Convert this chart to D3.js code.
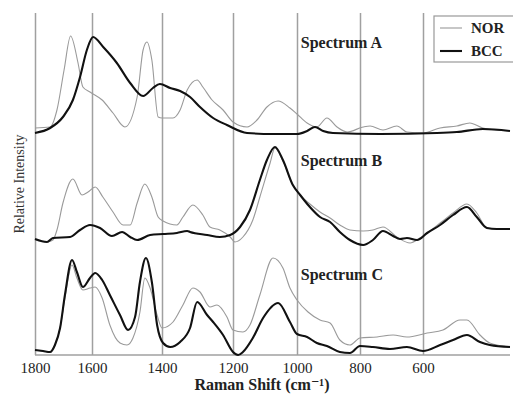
<!DOCTYPE html>
<html lang="en">
<head>
<meta charset="utf-8">
<style>
  body { margin: 0; background: #fff; }
  svg { display: block; font-family: "Liberation Serif", "DejaVu Serif", serif; }
  .grid line { stroke: #a0a0a0; stroke-width: 1.5; }
  .grid path { stroke: #a0a0a0; stroke-width: 1.5; }
  .grid text { font-size: 15px; fill: #222; font-family: "Liberation Serif", serif; }
  .nor { fill: none; stroke: #9a9a9a; stroke-width: 1.1; }
  .bcc { fill: none; stroke: #111; stroke-width: 2.1; }
  .lbl { font-size: 15px; font-weight: bold; fill: #222; }
</style>
</head>
<body>
<svg width="513" height="394"></svg>
<script src="https://cdn.jsdelivr.net/npm/d3@7/dist/d3.min.js"></script>
<script>
// tick labels on the Raman shift axis
var ticks = [1800, 1600, 1400, 1200, 1000, 800, 600];
var spectra = ["A", "B", "C"];
var offsets = [2.2, 1.15, 0];

// [Raman shift (cm-1), relative intensity]
var norA = [[1800,0.07],[1747,0.08],[1723,0.25],[1698,0.65],[1675,0.99],[1649,0.72],[1632,0.48],[1607,0.43],
  [1571,0.35],[1540,0.22],[1506,0.08],[1471,0.38],[1454,0.85],[1443,0.93],[1429,0.75],[1411,0.18],[1400,0.17],
  [1369,0.17],[1349,0.25],[1329,0.45],[1301,0.55],[1285,0.48],[1259,0.35],[1228,0.25],[1200,0.13],[1156,0.08],
  [1125,0.15],[1094,0.28],[1059,0.34],[1022,0.27],[1000,0.21],[968,0.12],[937,0.08],[905,0.17],[873,0.08],
  [841,0.03],[790,0.08],[768,0.09],[727,0.05],[683,0.09],[651,0.03],[600,0.02],[546,0.07],[493,0.09],
  [452,0.12],[411,0.07],[325,0.04]];
var bccA = [[1800,0.02],[1747,0.07],[1702,0.18],[1667,0.35],[1642,0.58],[1618,0.85],[1597,0.98],[1568,0.88],
  [1529,0.72],[1491,0.52],[1454,0.39],[1426,0.47],[1406,0.51],[1377,0.47],[1349,0.44],[1321,0.38],[1293,0.28],
  [1256,0.17],[1217,0.10],[1156,0.02],[1075,0.01],[1000,0.01],[968,0.04],[943,0.08],[917,0.04],[886,0.02],
  [736,0.01],[556,0.02],[493,0.03],[411,0.06],[325,0.04]];

var norB = [[1800,0.00],[1758,-0.02],[1737,0.00],[1723,0.10],[1702,0.37],[1667,0.61],[1635,0.45],[1614,0.48],
  [1591,0.53],[1569,0.43],[1540,0.28],[1511,0.15],[1491,0.15],[1471,0.37],[1449,0.56],[1429,0.43],[1411,0.23],
  [1397,0.19],[1358,0.15],[1341,0.23],[1313,0.35],[1285,0.25],[1265,0.13],[1237,0.10],[1208,0.03],[1194,-0.02],
  [1169,0.03],[1138,0.20],[1116,0.43],[1084,0.77],[1069,0.92],[1044,0.79],[1013,0.55],[990,0.45],[959,0.36],
  [927,0.28],[895,0.22],[864,0.15],[832,0.10],[790,0.09],[759,0.10],[727,0.13],[683,0.03],[641,-0.03],
  [610,0.02],[546,0.17],[505,0.27],[461,0.36],[430,0.27],[398,0.12],[367,0.11],[325,0.11]];
var bccB = [[1800,0.01],[1758,-0.02],[1737,0.02],[1677,0.03],[1642,0.10],[1607,0.15],[1577,0.12],[1543,0.04],
  [1514,0.08],[1491,0.03],[1471,0.00],[1434,0.05],[1397,0.06],[1358,0.07],[1329,0.09],[1321,0.08],[1273,0.05],
  [1237,0.03],[1208,0.05],[1178,0.13],[1147,0.30],[1116,0.60],[1094,0.80],[1069,0.93],[1044,0.80],[1013,0.55],
  [990,0.45],[959,0.33],[927,0.23],[895,0.18],[864,0.08],[832,0.00],[790,-0.05],[759,0.00],[727,0.09],
  [695,0.04],[673,0.01],[651,0.02],[619,0.00],[587,0.07],[546,0.15],[505,0.25],[461,0.33],[430,0.23],
  [398,0.12],[367,0.11],[325,0.11]];

var norC = [[1800,0.05],[1772,0.04],[1747,0.03],[1730,0.10],[1712,0.27],[1695,0.57],[1670,0.90],[1653,0.77],
  [1632,0.65],[1607,0.67],[1591,0.68],[1571,0.57],[1549,0.30],[1520,0.12],[1500,0.10],[1483,0.17],[1463,0.43],
  [1449,0.77],[1434,0.67],[1414,0.40],[1400,0.27],[1369,0.33],[1341,0.50],[1313,0.67],[1293,0.63],[1265,0.48],
  [1245,0.50],[1217,0.38],[1200,0.25],[1169,0.23],[1147,0.30],[1116,0.60],[1075,0.97],[1044,0.87],[1022,0.67],
  [1000,0.55],[965,0.43],[927,0.35],[895,0.32],[864,0.15],[832,0.10],[800,0.17],[746,0.18],[695,0.20],
  [651,0.18],[587,0.22],[537,0.25],[483,0.35],[461,0.35],[420,0.20],[389,0.12],[325,0.08]];
var bccC = [[1800,0.05],[1772,0.04],[1747,0.03],[1730,0.10],[1712,0.27],[1695,0.60],[1670,0.95],[1653,0.83],
  [1632,0.68],[1607,0.77],[1591,0.82],[1571,0.75],[1549,0.60],[1520,0.40],[1497,0.25],[1477,0.38],[1463,0.73],
  [1446,0.97],[1429,0.73],[1414,0.30],[1397,0.12],[1377,0.08],[1349,0.13],[1321,0.27],[1301,0.53],[1273,0.40],
  [1256,0.33],[1228,0.20],[1200,0.03],[1184,0.00],[1169,0.03],[1138,0.17],[1106,0.37],[1059,0.52],[1022,0.33],
  [1000,0.21],[968,0.18],[937,0.12],[905,0.09],[864,0.03],[832,0.02],[800,0.09],[759,0.08],[705,0.06],
  [651,0.08],[600,0.04],[546,0.10],[505,0.15],[461,0.20],[420,0.13],[389,0.10],[325,0.08]];

var norSeries = [norA, norB, norC];
var bccSeries = [bccA, bccB, bccC];

var svg = d3.select("svg");

// the scanned axis is not quite even, so the scale follows the gridlines
var x = d3.scaleLinear()
    .domain([1800, 1600, 1400, 1200, 1000, 800, 600, 325])
    .range([35, 92, 162, 233, 297, 360, 423, 510]);
var y = d3.scaleLinear().domain([0, 3.42]).range([355, 13]);

// gridlines + tick labels
var grid = svg.append("g")
    .attr("class", "grid")
    .attr("transform", "translate(0," + y(0) + ")")
    .call(d3.axisBottom(x)
        .tickValues(ticks)
        .tickSize(-(y(0) - y(3.42)))
        .tickSizeOuter(0)
        .tickPadding(7)
        .tickFormat(d3.format("d")));
grid.attr("font-family", null).attr("font-size", null);
grid.select(".domain").attr("d", "M" + x(1800) + ",0H" + x(325));

var line = d3.line()
    .x(function(d) { return x(d[0]); })
    .curve(d3.curveMonotoneX);

spectra.forEach(function(s, i) {
    line.y(function(d) { return y(d[1] + offsets[i]); });
    svg.append("path").attr("class", "nor").attr("d", line(norSeries[i]));
    svg.append("path").attr("class", "bcc").attr("d", line(bccSeries[i]));
});

// spectrum labels
var labelY = [0.87, 0.74, 0.75];
spectra.forEach(function(s, i) {
    svg.append("text")
        .attr("class", "lbl")
        .attr("x", x(988))
        .attr("y", y(offsets[i] + labelY[i]))
        .style("font-size", "16px")
        .style("font-weight", "600")
        .text("Spectrum " + s);
});

// axis titles
svg.append("text")
    .attr("class", "lbl")
    .attr("x", 262)
    .attr("y", 390)
    .attr("text-anchor", "middle")
    .style("font-size", "16px")
    .text("Raman Shift (cm\u207B\u00B9)");

svg.append("text")
    .attr("transform", "translate(24," + 184 + ") rotate(-90)")
    .attr("text-anchor", "middle")
    .style("font-size", "14px")
    .style("fill", "#333")
    .text("Relative Intensity");

// legend
var legend = svg.append("g").attr("transform", "translate(434,16)");
legend.append("rect")
    .attr("width", 90).attr("height", 46)
    .attr("fill", "#fff").attr("stroke", "#999").attr("stroke-width", 1.2);
[["NOR", "nor"], ["BCC", "bcc"]].forEach(function(d, i) {
    legend.append("line")
        .attr("class", d[1])
        .attr("x1", 6).attr("x2", 28)
        .attr("y1", 12 + i * 23).attr("y2", 12 + i * 23);
    legend.append("text")
        .attr("class", "lbl")
        .attr("x", 37).attr("y", 17 + i * 23)
        .text(d[0]);
});
</script>
</body>
</html>
